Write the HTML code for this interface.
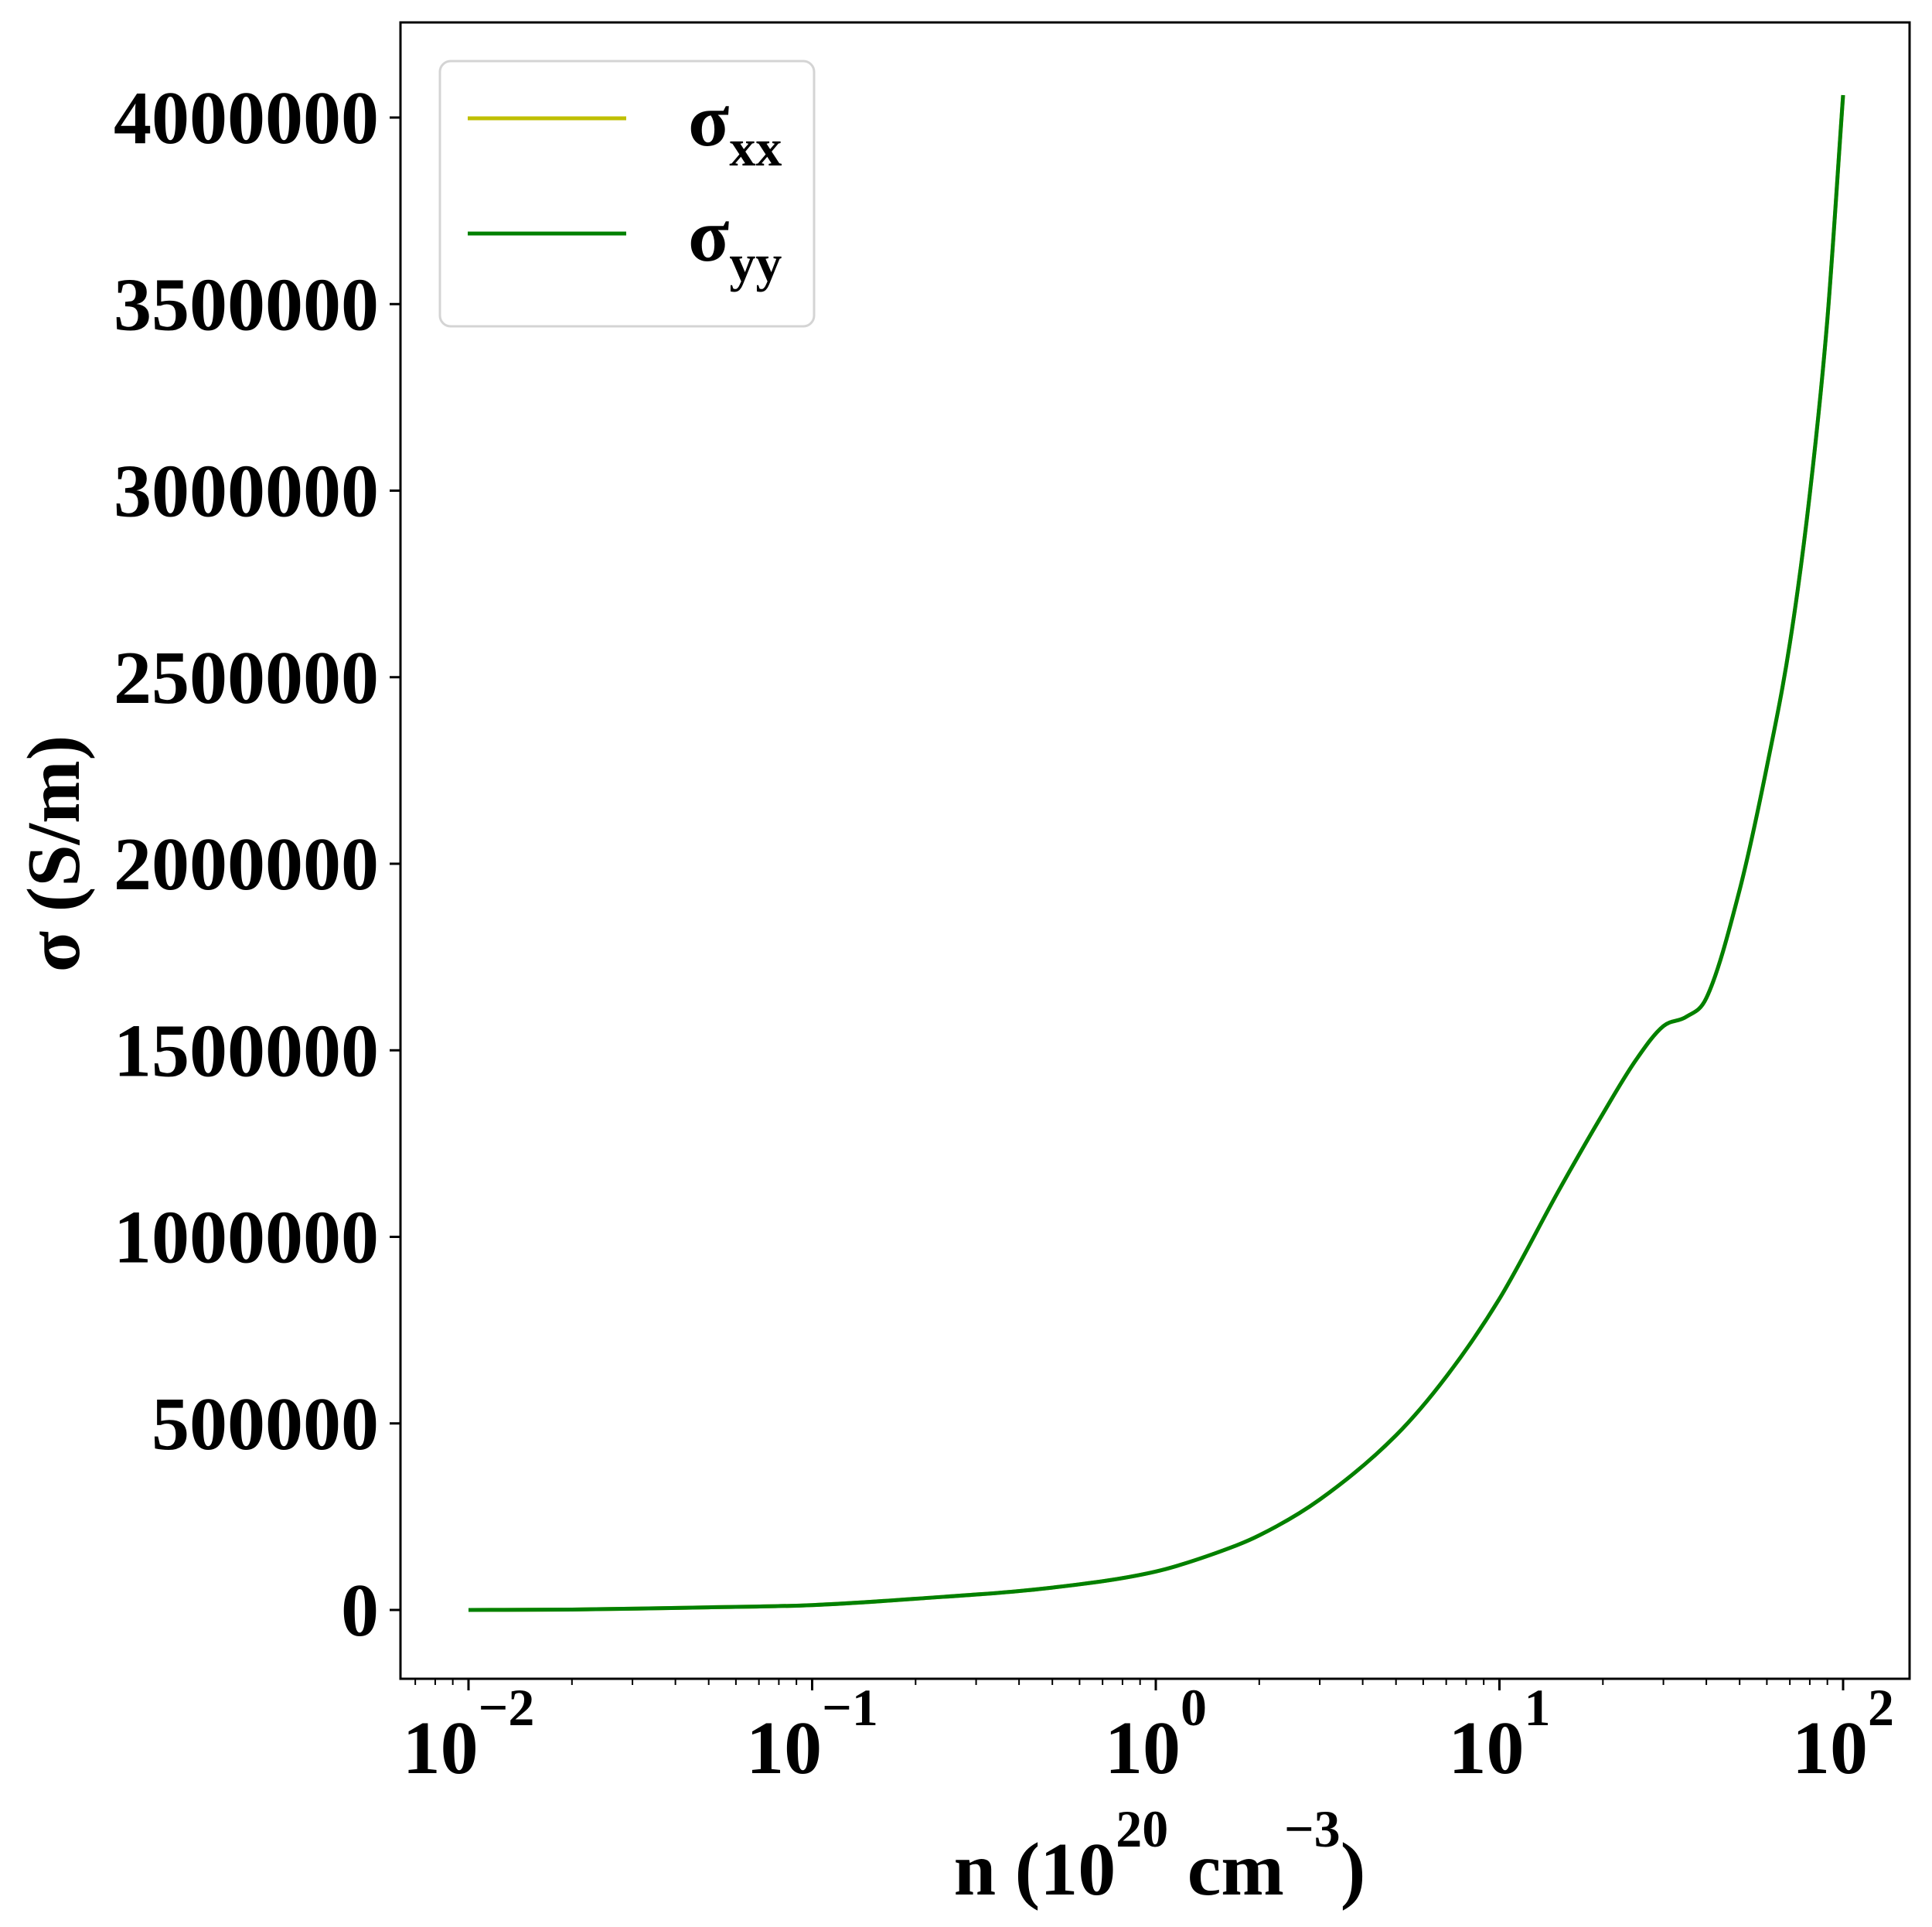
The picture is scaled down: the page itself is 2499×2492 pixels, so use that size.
<!DOCTYPE html>
<html><head><meta charset="utf-8"><style>
html,body{margin:0;padding:0;background:#fff}
svg{display:block}
text{font-family:"Liberation Serif","DejaVu Serif",serif;font-weight:bold;fill:#000}
</style></head><body>
<svg id="chart" width="2499" height="2492" viewBox="0 0 2499 2492" xmlns="http://www.w3.org/2000/svg">
<rect x="0" y="0" width="2499" height="2492" fill="#fff"/>
<g id="plot"></g>
</svg>
<script>
const nValues = [0.01, 0.02, 0.05, 0.1, 0.2, 0.5, 1, 1.5, 2, 3, 5, 7, 10, 15, 20, 25, 30, 35, 40, 50, 60, 70, 80, 90, 100];
const sigmaXX = [0, 1000, 7000, 13000, 30000, 60000, 103000, 153000, 200000, 296000, 468000, 625000, 834000, 1130000, 1330000, 1475000, 1565000, 1590000, 1640000, 1930000, 2260000, 2590000, 2990000, 3460000, 4060000];
const sigmaYY = [0, 1000, 7000, 13000, 30000, 60000, 103000, 153000, 200000, 296000, 468000, 625000, 834000, 1130000, 1330000, 1475000, 1565000, 1590000, 1640000, 1930000, 2260000, 2590000, 2990000, 3460000, 4060000];
const yTicks = [0, 500000, 1000000, 1500000, 2000000, 2500000, 3000000, 3500000, 4000000];
const xTickExps = ["−2", "−1", "0", "1", "2"];
const xTickVals = [0.01, 0.1, 1, 10, 100];

const NS = "http://www.w3.org/2000/svg";
const L = 518, R = 2470, T = 29, B = 2171;
const X0 = 606, DEC = 444.5;
function xs(v){ return X0 + (Math.log10(v) + 2) * DEC; }
function ys(v){ return 2082 - v * (2082 - 152) / 4000000; }
const g = document.getElementById('plot');
function el(tag, attrs, parent){ const e = document.createElementNS(NS, tag); for (const k in attrs) e.setAttribute(k, attrs[k]); (parent || g).appendChild(e); return e; }

function pathFor(xsArr, ysArr){
  // monotone cubic in log-x space
  const px = xsArr.map(xs), py = ysArr.map(ys);
  const n = px.length, d = [], m = [];
  for (let i=0;i<n-1;i++) d.push((py[i+1]-py[i])/(px[i+1]-px[i]));
  m[0]=d[0]; m[n-1]=d[n-2];
  for (let i=1;i<n-1;i++){ m[i] = (d[i-1]*d[i] <= 0) ? 0 : (d[i-1]+d[i])/2; }
  for (let i=0;i<n-1;i++){ if (d[i]===0){m[i]=0;m[i+1]=0;continue;} const a=m[i]/d[i], b=m[i+1]/d[i], s=a*a+b*b; if (s>9){const t=3/Math.sqrt(s); m[i]=t*a*d[i]; m[i+1]=t*b*d[i];} }
  let s = "M"+px[0].toFixed(1)+","+py[0].toFixed(1);
  for (let i=0;i<n-1;i++){ const h=(px[i+1]-px[i])/3; s += " C"+(px[i]+h).toFixed(1)+","+(py[i]+m[i]*h).toFixed(1)+" "+(px[i+1]-h).toFixed(1)+","+(py[i+1]-m[i+1]*h).toFixed(1)+" "+px[i+1].toFixed(1)+","+py[i+1].toFixed(1); }
  return s;
}

// series
const sx = el('path', {d: pathFor(nValues, sigmaXX), fill:'none', stroke:'#bfbf00', 'stroke-width':5});


const sy = el('path', {d: pathFor(nValues, sigmaYY), fill:'none', stroke:'#008000', 'stroke-width':5});



// frame
const fr = el('rect', {x:L, y:T, width:R-L, height:B-T, fill:'none', stroke:'#000', 'stroke-width':3});



// y ticks
yTicks.forEach(v => {
  const y = ys(v);
  const t = el('line', {x1:L-14, x2:L, y1:y, y2:y, stroke:'#000', 'stroke-width':3});
  
  
  const lb = el('text', {x:L-28, y:y+33, 'font-size':98, 'text-anchor':'end'});
  
  
  lb.textContent = String(v);
});

// x ticks major
xTickVals.forEach((v, i) => {
  const x = xs(v);
  const t = el('line', {x1:x, x2:x, y1:B, y2:B+15, stroke:'#000', 'stroke-width':3});
  
  
  const lb = el('text', {x:x, y:2293, 'font-size':98, 'text-anchor':'middle'});
  
  
  const a = document.createElementNS(NS, 'tspan'); a.textContent = '10'; lb.appendChild(a);
  const b = document.createElementNS(NS, 'tspan'); b.setAttribute('dy', -62); b.setAttribute('font-size', 68); b.textContent = xTickExps[i]; lb.appendChild(b);
});
// x minor ticks
for (let e = -3; e <= 2; e++) {
  for (let k = 2; k <= 9; k++) {
    const v = k * Math.pow(10, e);
    const x = xs(v);
    if (x < L || x > R) continue;
    const t = el('line', {x1:x, x2:x, y1:B, y2:B+8, stroke:'#000', 'stroke-width':2});
    
    
  }
}

// axis titles
const yt = el('text', {x:0, y:0, 'font-size':98, 'text-anchor':'middle', transform:'translate(102,1104) rotate(-90)'});


yt.textContent = 'σ (S/m)';
const xt = el('text', {x:1500, y:2450, 'font-size':98, 'text-anchor':'middle'});


xt.innerHTML = '<tspan>n (10</tspan><tspan dy="-62" font-size="68">20</tspan><tspan dy="62"> cm</tspan><tspan dy="-62" font-size="68">−3</tspan><tspan dy="62">)</tspan>';

// legend
const lg = el('g', {});


el('rect', {x:569, y:79, width:484, height:343, rx:14, fill:'#fff', 'fill-opacity':0.8, stroke:'#d4d4d4', 'stroke-width':3}, lg);
const l1 = el('line', {x1:605, x2:810, y1:153, y2:153, stroke:'#bfbf00', 'stroke-width':5}, lg);


const t1 = el('text', {x:890, y:188, 'font-size':98}, lg);


t1.innerHTML = '<tspan>σ</tspan><tspan dy="26" font-size="68">xx</tspan>';
const l2 = el('line', {x1:605, x2:810, y1:302, y2:302, stroke:'#008000', 'stroke-width':5}, lg);


const t2 = el('text', {x:890, y:337, 'font-size':98}, lg);


t2.innerHTML = '<tspan>σ</tspan><tspan dy="26" font-size="68">yy</tspan>';
</script>
</body></html>
